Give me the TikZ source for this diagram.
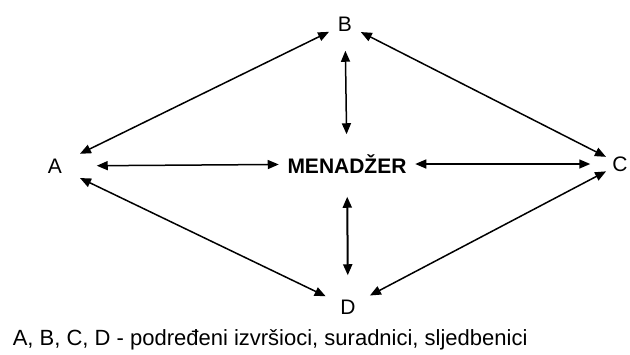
\documentclass[tikz,border=0pt]{standalone}
\usepackage{fontspec}
\setmainfont{Liberation Sans}
\usetikzlibrary{arrows.meta}

\begin{document}
\begin{tikzpicture}[x=1pt, y=-1pt, line width=1.5pt, line cap=round, line join=round,
  lbl/.style={circle, inner sep=0pt, font=\fontsize{21}{25}\selectfont},
  veza/.style={{Triangle[length=11pt,width=9pt]}-{Triangle[length=11pt,width=9pt]}}]

  %% ==== canvas ====
  \path[use as bounding box] (0,0) rectangle (630,354);

  %% ==== labels ====
  \node[lbl, minimum size=54pt] (A) at (55,166) {A};
  \node[lbl, minimum size=34pt] (B) at (345,24) {B};
  \node[lbl, minimum size=30pt] (C) at (620,164) {C};
  \node[lbl, minimum size=48pt] (D) at (348,307) {D};
  \node[rectangle, inner xsep=8pt, inner ysep=0pt, minimum height=58pt,
        font=\fontsize{21}{25}\selectfont\bfseries] (M) at (347,164) {MENADŽER};

  %% ==== outer diamond ====
  \draw[veza] (A) -- (B);
  \draw[veza] (B) -- (C);
  \draw[veza] (A) -- (D);
  \draw[veza] (D) -- (C);

  %% ==== to the manager ====
  \draw[veza, shorten <=14pt] (A) -- (M);
  \draw[veza, shorten >=14pt] (M) -- (C);
  \draw[veza, shorten <=9pt] (B) -- (M);
  \draw[veza, line width=2pt, shorten <=3pt, shorten >=7pt] (M) -- (D);

  %% ==== caption ====
  \node[anchor=west, inner sep=0pt, font=\fontsize{22}{26}\selectfont] (opis) at (12,340)
    {A, B, C, D - podređeni izvršioci, suradnici, sljedbenici};
\end{tikzpicture}
\end{document}
